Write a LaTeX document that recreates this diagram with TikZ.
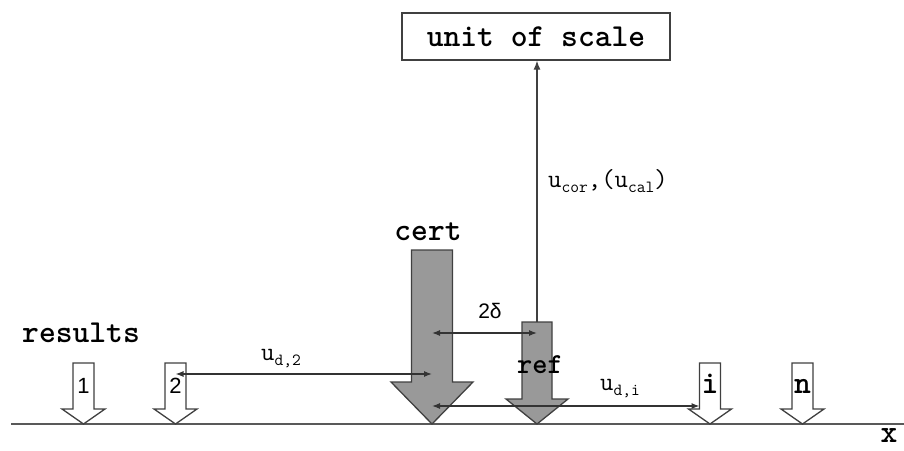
\documentclass[tikz,border=0pt]{standalone}
\usepackage{fontspec}
\newfontfamily\digitfont{Liberation Sans}
\usetikzlibrary{arrows.meta, positioning}

% lowered, smaller subscript in typewriter
\newcommand{\lowsub}[1]{\raisebox{-5pt}{\fontsize{17}{17}\selectfont #1}}

% block arrow pointing down to the axis: name, centre x, top y, shaft half width, head y, head half width, fill
\newcommand{\blockarrow}[7]{%
  \draw[blockline, fill=#7] ({#2-#4},#3) -- ({#2+#4},#3) -- ({#2+#4},#5) -- ({#2+#6},#5)
    -- (#2,424) -- ({#2-#6},#5) -- ({#2-#4},#5) -- cycle;
  \coordinate (#1) at (#2,{(#3+#5)/2});
  \coordinate (#1-top) at (#2,#3);
  \coordinate (#1-left) at ({#2-#4},{(#3+#5)/2});
}

\begin{document}
\begin{tikzpicture}[
    x=1pt, y=-1pt,
    every node/.style={font=\ttfamily\bfseries\fontsize{32}{34}\selectfont, inner sep=0pt},
    blockline/.style={draw=black!75, line width=1.3pt, line join=miter},
    axisline/.style={draw=black!65, line width=2pt},
    dim/.style={{Latex[length=8pt,width=6pt]}-{Latex[length=8pt,width=6pt]}, line width=1.2pt, black!80},
    arrow/.style={-{Latex[length=9pt,width=7pt]}, line width=1.2pt, black!75},
    unitbox/.style={rectangle, draw=black!75, line width=1.3pt, minimum width=268pt, minimum height=47pt},
    dimlabel/.style={font=\ttfamily\fontsize{26}{28}\selectfont, anchor=base}
]
\useasboundingbox (0,0) rectangle (904,450);

% axis
\draw[axisline] (11,424) -- (904,424);
\node[anchor=base] (xlab) at (889,442) {x};

% results
\foreach \name/\x/\lab in {r1/83.5/{\digitfont\mdseries\fontsize{22}{24}\selectfont 1}, r2/175.5/{\digitfont\mdseries\fontsize{22}{24}\selectfont 2}, ri/710/i, rn/802.5/n}{
  \blockarrow{\name}{\x}{363}{10.5}{409}{21.5}{white}
  \node[anchor=base] (\name-lab) at (\x,393) {\lab};
}
\node[anchor=base] (results) at (81,342) {results};

% certified and reference values
\blockarrow{cert}{432}{250}{20.5}{382}{41}{black!40}
\blockarrow{ref}{537}{322}{15}{399}{31}{black!40}
\node[anchor=base] (certlab) at (428,240) {cert};
\node[anchor=base, font=\ttfamily\bfseries\fontsize{29}{31}\selectfont] (reflab) at (540,373) {ref};

% unit of scale
\node[unitbox] (unit) at (536,36.5) {unit of scale};
\draw[arrow] (ref-top) -- (ref-top |- unit.south);
\node[dimlabel, anchor=base west] (ucor) at (548,187) {u\lowsub{cor},(u\lowsub{cal})};

% deviations
\draw[dim] ([yshift=-17pt]cert) -- ([yshift=-17pt]cert -| ref);
\node[anchor=base, font=\fontsize{21}{23}\selectfont\digitfont] (delta) at (490,318) {2δ};
\draw[dim] ([yshift=12pt]r2) -- ([yshift=12pt]r2 -| cert);
\node[dimlabel] (ud2) at (281,360) {u\lowsub{d,2}};
\draw[dim] ([yshift=-90pt]cert) -- ([yshift=-90pt]cert -| ri-left);
\node[dimlabel] (udi) at (620,390) {u\lowsub{d,i}};

\end{tikzpicture}
\end{document}
